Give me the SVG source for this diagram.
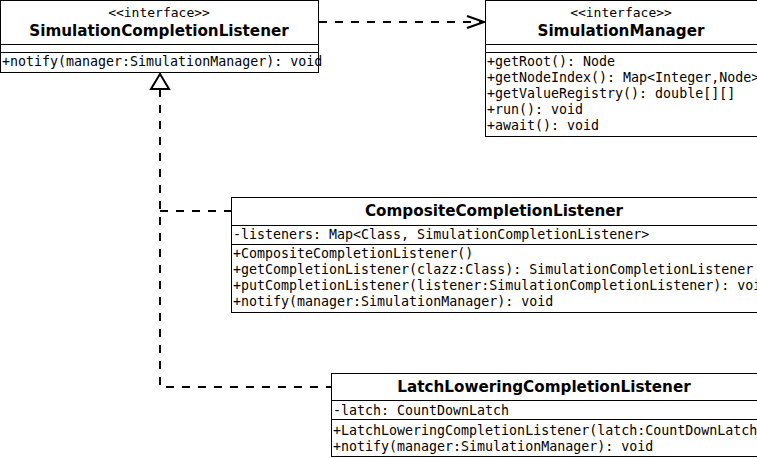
<svg xmlns="http://www.w3.org/2000/svg" width="757" height="458" viewBox="0 0 757 458">
<style>
.box{fill:#fff;stroke:#000;stroke-width:1}
.div{stroke:#000;stroke-width:1}
.st{font-family:"DejaVu Sans Mono",monospace;font-size:13px;text-anchor:middle}
.nm{font-family:"DejaVu Sans",sans-serif;font-weight:bold;font-size:15.2px;text-anchor:middle}
.mb{font-family:"DejaVu Sans Mono",monospace;font-size:13.3px}
.dash{fill:none;stroke:#000;stroke-width:2;stroke-dasharray:8,8}
</style>
<rect width="757" height="458" fill="#fff"/>
<g id="connectors">
<path class="dash" d="M319,22 H483"/>
<path d="M467,16 L484,22 L467,28" fill="none" stroke="#000" stroke-width="2"/>
<path class="dash" d="M160,89 V387 H331"/>
<path class="dash" d="M160,211 H231"/>
<polygon points="160,74 151,89 169,89" fill="#fff" stroke="#000" stroke-width="2"/>
</g>
<g id="SimulationCompletionListener">
<rect class="box" x="0.5" y="0.5" width="318" height="72"/>
<line class="div" x1="0" y1="44.5" x2="319" y2="44.5"/>
<line class="div" x1="0" y1="52.5" x2="319" y2="52.5"/>
<text class="st" x="159" y="17">&lt;&lt;interface&gt;&gt;</text>
<text class="nm" x="159" y="36">SimulationCompletionListener</text>
<text class="mb" x="2" y="66">+notify(manager:SimulationManager): void</text>
</g>
<g id="SimulationManager">
<rect class="box" x="485.5" y="0.5" width="272" height="136"/>
<line class="div" x1="485" y1="44.5" x2="757" y2="44.5"/>
<line class="div" x1="485" y1="52.5" x2="757" y2="52.5"/>
<text class="st" x="621" y="17">&lt;&lt;interface&gt;&gt;</text>
<text class="nm" x="621" y="36">SimulationManager</text>
<text class="mb" x="487" y="66">+getRoot(): Node</text>
<text class="mb" x="487" y="82">+getNodeIndex(): Map&lt;Integer,Node&gt;</text>
<text class="mb" x="487" y="98">+getValueRegistry(): double[][]</text>
<text class="mb" x="487" y="114">+run(): void</text>
<text class="mb" x="487" y="130">+await(): void</text>
</g>
<g id="CompositeCompletionListener">
<rect class="box" x="231.5" y="197.5" width="560" height="115"/>
<line class="div" x1="231" y1="225.5" x2="757" y2="225.5"/>
<line class="div" x1="231" y1="244.5" x2="757" y2="244.5"/>
<text class="nm" x="494" y="216">CompositeCompletionListener</text>
<text class="mb" x="233" y="239">-listeners: Map&lt;Class, SimulationCompletionListener&gt;</text>
<text class="mb" x="233" y="258">+CompositeCompletionListener()</text>
<text class="mb" x="233" y="274">+getCompletionListener(clazz:Class): SimulationCompletionListener</text>
<text class="mb" x="233" y="290">+putCompletionListener(listener:SimulationCompletionListener): void</text>
<text class="mb" x="233" y="306">+notify(manager:SimulationManager): void</text>
</g>
<g id="LatchLoweringCompletionListener">
<rect class="box" x="331.5" y="373.5" width="500" height="83"/>
<line class="div" x1="331" y1="400.5" x2="757" y2="400.5"/>
<line class="div" x1="331" y1="419.5" x2="757" y2="419.5"/>
<text class="nm" x="544" y="392">LatchLoweringCompletionListener</text>
<text class="mb" x="333" y="415">-latch: CountDownLatch</text>
<text class="mb" x="333" y="435">+LatchLoweringCompletionListener(latch:CountDownLatch)</text>
<text class="mb" x="333" y="451">+notify(manager:SimulationManager): void</text>
</g>
</svg>
